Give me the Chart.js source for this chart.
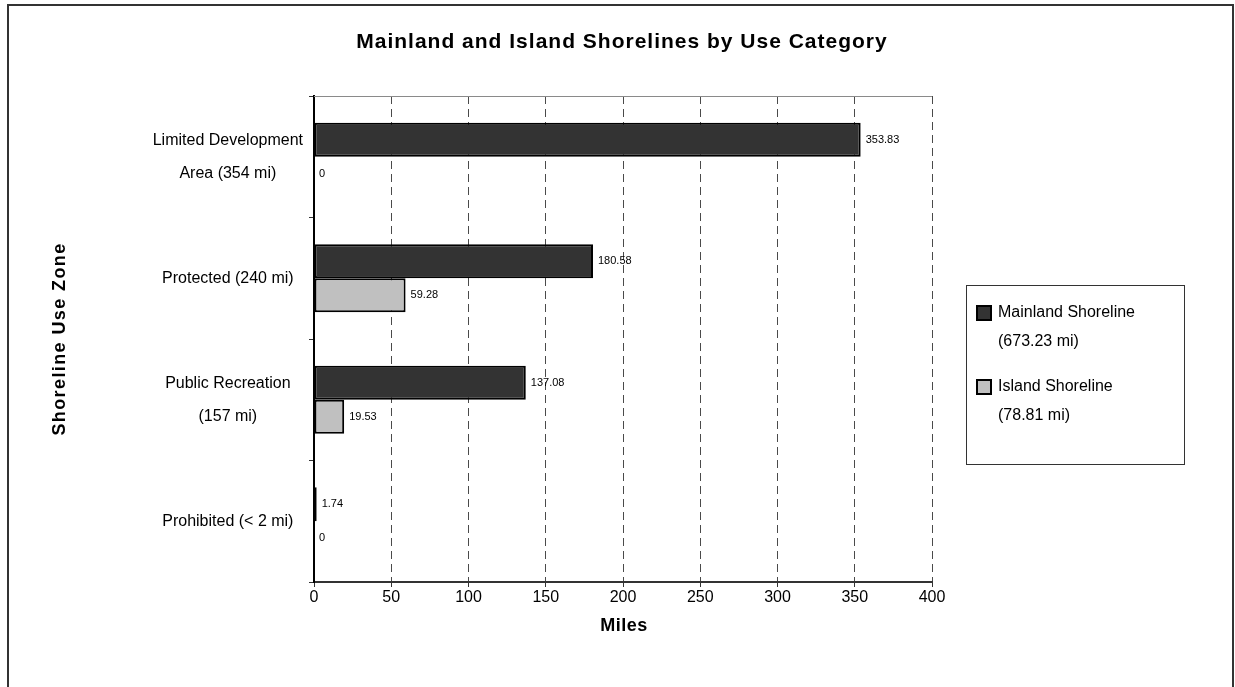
<!DOCTYPE html>
<html>
<head>
<meta charset="utf-8">
<title>Mainland and Island Shorelines by Use Category</title>
<script src="https://cdn.jsdelivr.net/npm/chart.js@4/dist/chart.umd.min.js"></script>
<style>
  html, body { margin: 0; padding: 0; background: #ffffff; }
  canvas { display: block; }
</style>
</head>
<body>
<canvas id="chart" width="1235" height="687"></canvas>
<script>
// Shoreline use zones (each zone label may span two lines)
const zoneLabels = [
  ['Limited Development', 'Area (354 mi)'],
  'Protected (240 mi)',
  ['Public Recreation', '(157 mi)'],
  'Prohibited (< 2 mi)'
];
const mainlandMiles = [353.83, 180.58, 137.08, 1.74];
const islandMiles = [0, 59.28, 19.53, 0];
const seriesNames = [
  ['Mainland Shoreline', '(673.23 mi)'],
  ['Island Shoreline', '(78.81 mi)']
];
const milesTicks = [0, 50, 100, 150, 200, 250, 300, 350, 400];
const chartTitle = 'Mainland and Island Shorelines by Use Category';
const xTitle = 'Miles';
const yTitle = 'Shoreline Use Zone';

const FONT = "'Liberation Sans', Arial, Helvetica, sans-serif";

// White page with a thin frame around the whole chart
const frame = {
  id: 'frame',
  beforeDraw(chart) {
    const ctx = chart.ctx;
    ctx.save();
    ctx.fillStyle = '#ffffff';
    ctx.fillRect(0, 0, chart.width, chart.height);
    ctx.strokeStyle = '#333333';
    ctx.lineWidth = 2;
    ctx.strokeRect(8, 5, 1225, 700);
    ctx.restore();
  },
  afterDraw(chart) {
    // light top edge of the plot area
    const a = chart.chartArea;
    const ctx = chart.ctx;
    ctx.save();
    ctx.strokeStyle = '#8a8a8a';
    ctx.lineWidth = 1;
    ctx.beginPath();
    ctx.moveTo(a.left, Math.round(a.top) + 0.5);
    ctx.lineTo(a.right, Math.round(a.top) + 0.5);
    ctx.stroke();
    ctx.restore();
  }
};

// Bold captions: chart title and both axis titles
const captions = {
  id: 'captions',
  afterDraw(chart) {
    const ctx = chart.ctx;
    const a = chart.chartArea;
    const spacing = px => { if ('letterSpacing' in ctx) ctx.letterSpacing = px; };
    ctx.save();
    ctx.fillStyle = '#000000';
    ctx.textAlign = 'center';
    ctx.textBaseline = 'middle';
    spacing('1px');
    ctx.font = 'bold 21px ' + FONT;
    ctx.fillText(chartTitle, 622, 42);
    spacing('0.5px');
    ctx.font = 'bold 18px ' + FONT;
    ctx.fillText(xTitle, (a.left + a.right) / 2 + 1, 626);
    spacing('1.4px');
    ctx.translate(60, (a.top + a.bottom) / 2);
    ctx.rotate(-Math.PI / 2);
    ctx.fillText(yTitle, 0, 0);
    ctx.restore();
  }
};

// Value printed just past the end of each bar
const barValues = {
  id: 'barValues',
  afterDatasetsDraw(chart) {
    const ctx = chart.ctx;
    ctx.save();
    ctx.font = '11px ' + FONT;
    ctx.fillStyle = '#000000';
    ctx.textAlign = 'left';
    ctx.textBaseline = 'middle';
    chart.data.datasets.forEach((ds, i) => {
      const meta = chart.getDatasetMeta(i);
      meta.data.forEach((bar, j) => {
        ctx.fillText(String(ds.data[j]), bar.x + 5, bar.y);
      });
    });
    ctx.restore();
  }
};

// Boxed legend to the right of the plot
const sideLegend = {
  id: 'sideLegend',
  afterDraw(chart) {
    const ctx = chart.ctx;
    ctx.save();
    ctx.strokeStyle = '#333333';
    ctx.lineWidth = 1;
    ctx.strokeRect(966.5, 285.5, 218, 179);
    ctx.font = '16px ' + FONT;
    ctx.textAlign = 'left';
    ctx.textBaseline = 'middle';
    const rows = [313, 387];
    chart.data.datasets.forEach((ds, i) => {
      const y = rows[i];
      ctx.fillStyle = ds.backgroundColor;
      ctx.fillRect(977, y - 7, 14, 14);
      ctx.strokeStyle = '#000000';
      ctx.lineWidth = 2;
      ctx.strokeRect(977, y - 7, 14, 14);
      ctx.fillStyle = '#000000';
      const lines = Array.isArray(ds.label) ? ds.label : [ds.label];
      lines.forEach((t, k) => ctx.fillText(t, 998, y + k * 29));
    });
    ctx.restore();
  }
};

new Chart(document.getElementById('chart'), {
  type: 'bar',
  data: {
    labels: zoneLabels,
    datasets: [
      {
        label: seriesNames[0],
        data: mainlandMiles,
        backgroundColor: '#333333',
        borderColor: '#000000',
        borderWidth: 2,
        borderSkipped: false
      },
      {
        label: seriesNames[1],
        data: islandMiles,
        backgroundColor: '#c0c0c0',
        borderColor: '#000000',
        borderWidth: 2,
        borderSkipped: false
      }
    ]
  },
  options: {
    indexAxis: 'y',
    responsive: false,
    animation: false,
    devicePixelRatio: 1,
    categoryPercentage: 0.56,
    barPercentage: 1,
    layout: { padding: { top: 96, right: 303, bottom: 0, left: 0 } },
    plugins: {
      legend: { display: false },
      title: { display: false },
      tooltip: { enabled: false }
    },
    scales: {
      x: {
        type: 'linear',
        min: milesTicks[0],
        max: milesTicks[milesTicks.length - 1],
        afterBuildTicks(scale) {
          scale.ticks = milesTicks.map(v => ({ value: v }));
        },
        afterFit(scale) { scale.height = 105; },
        grid: {
          color: '#4a4a4a',
          lineWidth: 1,
          drawTicks: true,
          tickLength: 5,
          tickColor: '#333333'
        },
        border: { display: true, color: '#333333', width: 2, dash: [8, 5] },
        ticks: {
          padding: 1,
          color: '#000000',
          font: { family: FONT, size: 16 }
        }
      },
      y: {
        type: 'category',
        afterFit(scale) { scale.width = 314; },
        grid: {
          drawOnChartArea: false,
          drawTicks: true,
          tickLength: 5,
          color: '#333333',
          offset: true
        },
        border: { display: true, color: '#000000', width: 2 },
        ticks: {
          crossAlign: 'center',
          padding: 6,
          color: '#000000',
          font: { family: FONT, size: 16, lineHeight: 2.05 }
        }
      }
    }
  },
  plugins: [frame, barValues, sideLegend, captions]
});
</script>
</body>
</html>
